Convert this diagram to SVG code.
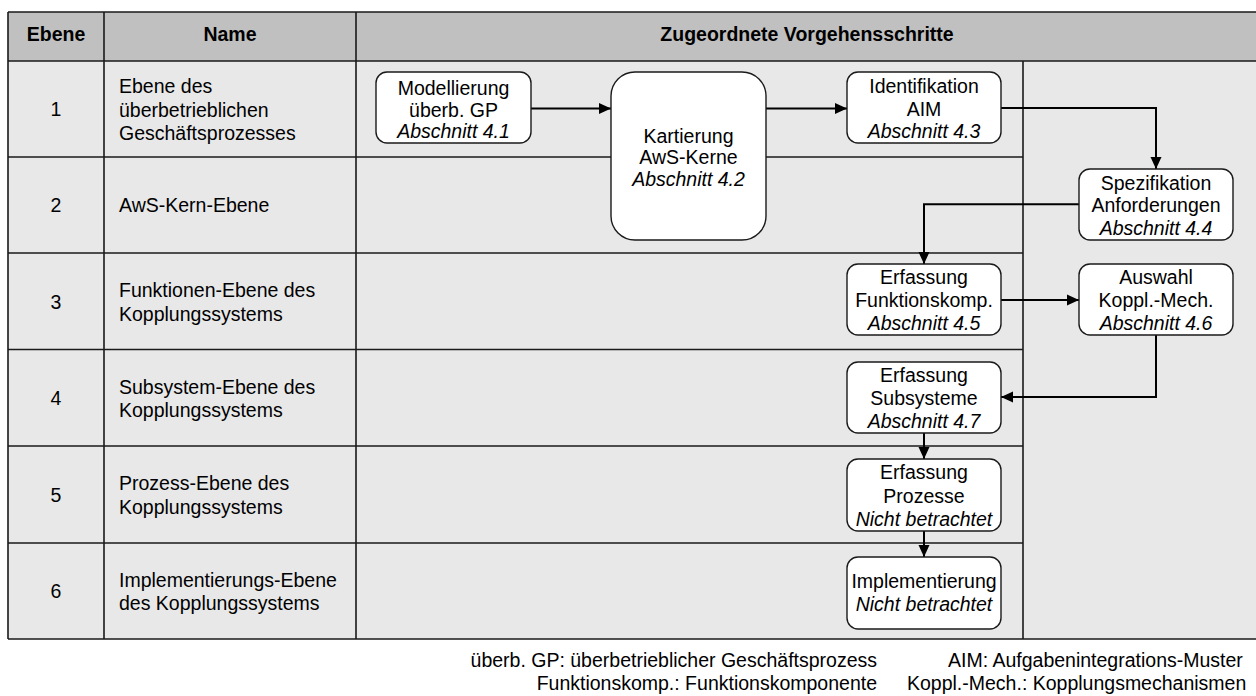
<svg xmlns="http://www.w3.org/2000/svg" width="1256" height="696" viewBox="0 0 1256 696">
<style>
text{font-family:"Liberation Sans",Arial,sans-serif;font-size:19.5px;fill:#000}
.h{font-weight:bold;text-anchor:middle}
.c{text-anchor:middle}
.e{text-anchor:end}
.i{font-style:italic}
.grid{stroke:#1a1a1a;stroke-width:1.6;fill:none}
.box{fill:#fff;stroke:#1a1a1a;stroke-width:1.4}
.con{fill:none;stroke:#000;stroke-width:2}
</style>
<defs>
<marker id="arr" viewBox="0 0 12 12" refX="12" refY="6" markerWidth="12" markerHeight="12" markerUnits="userSpaceOnUse" orient="auto">
<path d="M0,0.5 L12,6 L0,11.5 Z" fill="#000"/>
</marker>
</defs>
<rect width="1256" height="696" fill="#fff"/>
<g id="table">
<rect x="8" y="12" width="1250" height="49" fill="#c0c0c0"/>
<rect x="8" y="61" width="1250" height="578" fill="#e8e8e8"/>
<path class="grid" d="M8,12 H1258 M8,61 H1258 M8,639 H1258 M8,12 V639 M104,12 V639 M356,12 V639 M1023,61 V639 M8,157 H1023 M8,253 H1023 M8,349.5 H1023 M8,446 H1023 M8,543 H1023"/>
<text class="h" x="56" y="41">Ebene</text>
<text class="h" x="230" y="41">Name</text>
<text class="h" x="807" y="41">Zugeordnete Vorgehensschritte</text>
<text class="c" x="56" y="116">1</text>
<text x="119" y="93">Ebene des</text>
<text x="119" y="116.5">überbetrieblichen</text>
<text x="119" y="140">Geschäftsprozesses</text>
<text class="c" x="56" y="212">2</text>
<text x="119" y="212">AwS-Kern-Ebene</text>
<text class="c" x="56" y="308.5">3</text>
<text x="119" y="297.3">Funktionen-Ebene des</text>
<text x="119" y="320.7">Kopplungssystems</text>
<text class="c" x="56" y="405">4</text>
<text x="119" y="393.7">Subsystem-Ebene des</text>
<text x="119" y="417">Kopplungssystems</text>
<text class="c" x="56" y="501.5">5</text>
<text x="119" y="490.3">Prozess-Ebene des</text>
<text x="119" y="513.7">Kopplungssystems</text>
<text class="c" x="56" y="598">6</text>
<text x="119" y="586.7">Implementierungs-Ebene</text>
<text x="119" y="610">des Kopplungssystems</text>
</g>
<g id="connectors">
<path class="con" d="M531,108.5 H611" marker-end="url(#arr)"/>
<path class="con" d="M766,108.5 H847" marker-end="url(#arr)"/>
<path class="con" d="M1001,108 H1156 V169" marker-end="url(#arr)"/>
<path class="con" d="M1079,204.3 H924 V264" marker-end="url(#arr)"/>
<path class="con" d="M1001,300 H1079" marker-end="url(#arr)"/>
<path class="con" d="M1156,335 V397 H1001" marker-end="url(#arr)"/>
<path class="con" d="M924,433 V459" marker-end="url(#arr)"/>
<path class="con" d="M924,531 V557" marker-end="url(#arr)"/>
</g>
<g id="n41">
<rect class="box" x="376" y="72" width="155" height="71" rx="11"/>
<text class="c" x="453.5" y="95">Modellierung</text>
<text class="c" x="453.5" y="116.7">überb. GP</text>
<text class="c i" x="453.5" y="138.3">Abschnitt 4.1</text>
</g>
<g id="n42">
<rect class="box" x="611" y="72" width="155" height="168" rx="24"/>
<text class="c" x="688.5" y="142.7">Kartierung</text>
<text class="c" x="688.5" y="164">AwS-Kerne</text>
<text class="c i" x="688.5" y="186">Abschnitt 4.2</text>
</g>
<g id="n43">
<rect class="box" x="847" y="72" width="154" height="71" rx="11"/>
<text class="c" x="924" y="93">Identifikation</text>
<text class="c" x="924" y="115.5">AIM</text>
<text class="c i" x="924" y="138.3">Abschnitt 4.3</text>
</g>
<g id="n44">
<rect class="box" x="1079" y="169" width="154" height="71" rx="11"/>
<text class="c" x="1156" y="189.5">Spezifikation</text>
<text class="c" x="1156" y="212">Anforderungen</text>
<text class="c i" x="1156" y="235">Abschnitt 4.4</text>
</g>
<g id="n45">
<rect class="box" x="847" y="264" width="154" height="71" rx="11"/>
<text class="c" x="924" y="283.5">Erfassung</text>
<text class="c" x="924" y="306.7">Funktionskomp.</text>
<text class="c i" x="924" y="330">Abschnitt 4.5</text>
</g>
<g id="n46">
<rect class="box" x="1079" y="264" width="154" height="71" rx="11"/>
<text class="c" x="1156" y="283.5">Auswahl</text>
<text class="c" x="1156" y="306.7">Koppl.-Mech.</text>
<text class="c i" x="1156" y="330">Abschnitt 4.6</text>
</g>
<g id="n47">
<rect class="box" x="847" y="362" width="154" height="71" rx="11"/>
<text class="c" x="924" y="381.7">Erfassung</text>
<text class="c" x="924" y="405">Subsysteme</text>
<text class="c i" x="924" y="428.3">Abschnitt 4.7</text>
</g>
<g id="n5">
<rect class="box" x="847" y="459" width="154" height="72" rx="11"/>
<text class="c" x="924" y="479.3">Erfassung</text>
<text class="c" x="924" y="503.3">Prozesse</text>
<text class="c i" x="924" y="526">Nicht betrachtet</text>
</g>
<g id="n6">
<rect class="box" x="847" y="557" width="154" height="72" rx="11"/>
<text class="c" x="924" y="588.3">Implementierung</text>
<text class="c i" x="924" y="610.7">Nicht betrachtet</text>
</g>
<g id="legend">
<text class="e" x="877" y="667">überb. GP: überbetrieblicher Geschäftsprozess</text>
<text class="e" x="877" y="690">Funktionskomp.: Funktionskomponente</text>
<text x="948" y="667">AIM: Aufgabenintegrations-Muster</text>
<text x="907" y="690">Koppl.-Mech.: Kopplungsmechanismen</text>
</g>
</svg>
